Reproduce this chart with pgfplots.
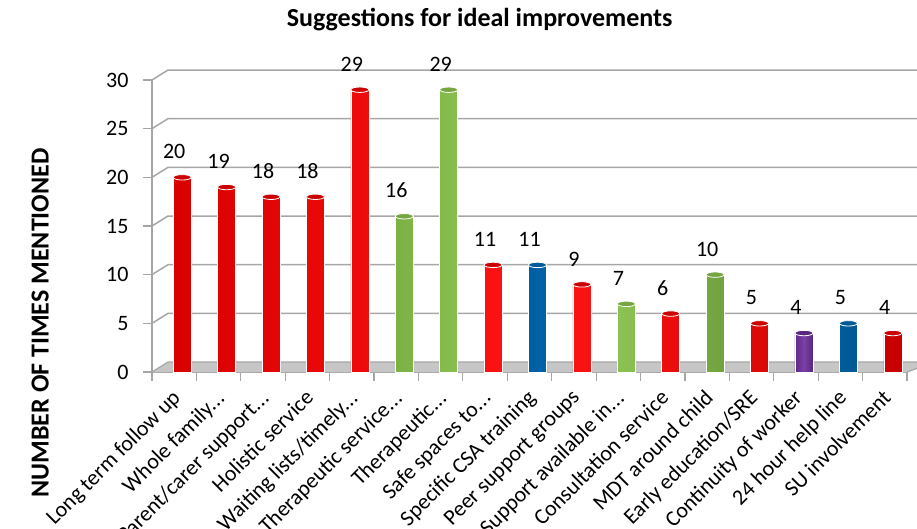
\documentclass[border=0pt]{standalone}
\usepackage{fontspec}
\setmainfont{Carlito}
\usepackage{pgfplots}
\usepackage{pgfplotstable}
\pgfplotsset{compat=1.18}
\definecolor{cred}{HTML}{FF0000}
\definecolor{cgreen}{HTML}{92D050}
\definecolor{cblue}{HTML}{0070C0}
\definecolor{cpurple}{HTML}{7030A0}
\definecolor{gridgray}{HTML}{A6A6A6}
\newcommand{\dd}{.\kern0.02em.\kern0.02em.}
\pgfplotstableread{
x y
0 20
1 19
2 18
3 18
4 29
7 11
9 9
11 6
13 5
16 4
}\redtab
\pgfplotstableread{
x y
5 16
6 29
10 7
12 10
}\greentab
\pgfplotstableread{
x y
8 11
15 5
}\bluetab
\pgfplotstableread{
x y
14 4
}\purpletab
\pgfplotsset{
  cyl/.style={ybar, bar width=18bp, bar shift=8bp, draw=white, line width=0.6bp,
    left color=#1!85!black, right color=#1!78!black, middle color=#1!92!white,
    nodes near coords, nodes near coords style={font=\fontsize{22bp}{24bp}\selectfont, anchor=south, inner sep=0pt, yshift=18bp, text=black}},
  cap/.style={only marks, mark=*, mark size=9bp,
    mark options={xshift=8bp, yscale=0.3, fill=#1!80!black, draw=white, line width=0.8bp}},
}
\begin{document}
\begin{tikzpicture}
\useasboundingbox (-152bp,-157bp) rectangle (765bp,372bp);
\begin{axis}[
  scale only axis, width=755bp, height=292bp,
  xmin=-0.5, xmax=16.5, ymin=0, ymax=30,
  axis x line*=bottom, axis y line*=left,
  axis line style={gridgray, line width=1.2bp, -},
  xtick={-0.08,0.92,1.92,2.92,3.92,4.92,5.92,6.92,7.92,8.92,9.92,10.92,11.92,12.92,13.92,14.92,15.92},
  xticklabels={Long term follow up, Whole family\dd, Parent/carer support\dd, Holistic service, Waiting lists/timely\dd, Therapeutic service\dd, Therapeutic\dd, Safe spaces to\dd, Specific CSA training, Peer support groups, Support available in\dd, Consultation service, MDT around child, Early education/SRE, Continuity of worker, 24 hour help line, SU involvement},
  major x tick style={draw=none},
  minor xtick={-0.5,0.5,...,16.5},
  minor tick length=9bp,
  ytick={0,5,...,30}, major tick length=9bp,
  tick align=outside,
  tick style={gridgray, line width=1.2bp},
  xticklabel shift=7bp,
  xticklabel style={rotate=45, anchor=north east, font=\fontsize{22bp}{24bp}\selectfont, inner sep=0pt},
  yticklabel style={xshift=-11bp, font=\fontsize{22bp}{24bp}\selectfont},
  /pgf/number format/assume math mode=true,
  title={Suggestions for ideal improvements},
  title style={at={(axis description cs:0.434,1.188)}, anchor=center, font=\bfseries\fontsize{26bp}{28bp}\selectfont},
  ylabel={NUMBER OF TIMES MENTIONED},
  ylabel style={at={(axis description cs:-0.148,0.168)}, anchor=center, font=\bfseries\fontsize{26bp}{28bp}\selectfont},
  clip=false,
]
% back wall gridlines
\pgfplotsinvokeforeach{5,10,15,20,25,30}{
  \draw[gridgray, line width=1.5bp] (axis cs:-0.5,#1) -- ++(16bp,10bp) -- ++(744bp,0);
}
% floor
\fill[gray!45] (axis cs:-0.5,0) -- ++(16bp,10bp) -- ++(744bp,0) -- (axis cs:16.5,0) -- cycle;
\draw[gridgray, line width=1.2bp] (axis cs:-0.5,0) -- ++(16bp,10bp) -- ++(744bp,0) -- (axis cs:16.5,0);

\addplot[cyl=cred] table {\redtab};
\addplot[cap=cred] table {\redtab};
\addplot[cyl=cgreen] table {\greentab};
\addplot[cap=cgreen] table {\greentab};
\addplot[cyl=cblue] table {\bluetab};
\addplot[cap=cblue] table {\bluetab};
\addplot[cyl=cpurple] table {\purpletab};
\addplot[cap=cpurple] table {\purpletab};
\end{axis}
\end{tikzpicture}
\end{document}
